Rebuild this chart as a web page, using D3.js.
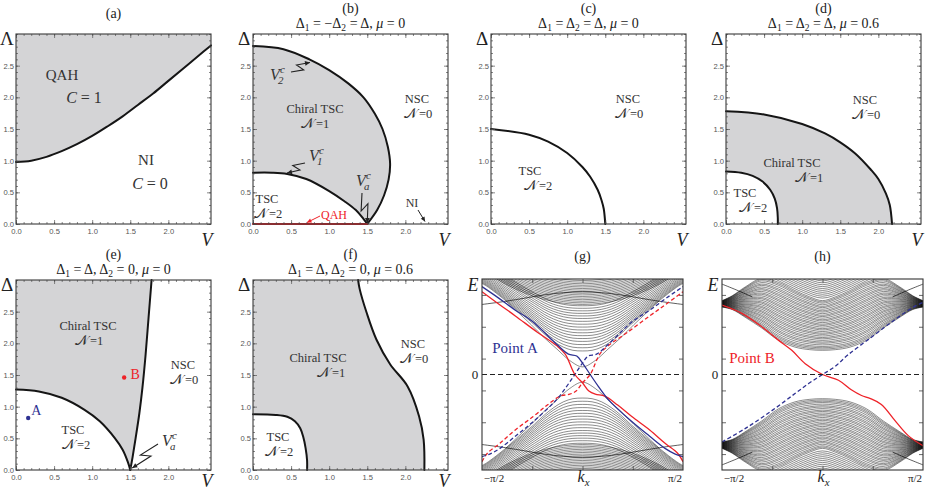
<!DOCTYPE html>
<html><head><meta charset="utf-8">
<script src="https://cdnjs.cloudflare.com/ajax/libs/d3/7.8.5/d3.min.js"></script>
<style>body{margin:0;background:#fff}svg{display:block}</style>
</head><body><svg id="c" width="927" height="490"></svg>
<script>
// ---------------- data ----------------
const xTicks=[0,0.5,1.0,1.5,2.0];
const xTickLabels=["0.0","0.5","1.0","1.5","2.0"];
const yTicks=[0,0.5,1.0,1.5,2.0,2.5];
const yTickLabels=["0.0","0.5","1.0","1.5","2.0","2.5"];
const VMAX=2.56, DMAX=3;

const aBoundary=[[0,0.98],[0.2,1.0],[0.4,1.06],[0.6,1.15],[0.8,1.26],[1.0,1.39],[1.2,1.54],[1.4,1.7],[1.6,1.88],[1.8,2.06],[2.0,2.26],[2.2,2.46],[2.4,2.66],[2.56,2.82]];
const bOuter=[[0,2.81],[0.4,2.76],[0.74,2.6],[1.0,2.43],[1.25,2.22],[1.45,2.0],[1.6,1.74],[1.7,1.5],[1.77,1.22],[1.8,0.95],[1.78,0.7],[1.72,0.45],[1.63,0.22],[1.5,0]];
const bInner=[[0,0.81],[0.25,0.81],[0.45,0.79],[0.7,0.71],[1.0,0.52],[1.2,0.36],[1.35,0.22],[1.45,0.08],[1.5,0]];
const bQAH=[[0,0],[1.5,0]];
const cCircle=[[0,1.5],[0.5,1.41],[0.75,1.3],[1.0,1.12],[1.2,0.9],[1.3,0.75],[1.4,0.54],[1.45,0.38],[1.48,0.24],[1.5,0]];
const dOuter=[[0,1.78],[0.5,1.73],[1.0,1.58],[1.3,1.43],[1.5,1.29],[1.7,1.11],[1.9,0.86],[2.0,0.71],[2.1,0.48],[2.15,0.3],[2.18,0]];
const dInner=[[0,0.83],[0.2,0.81],[0.35,0.76],[0.48,0.67],[0.58,0.54],[0.64,0.4],[0.67,0.25],[0.68,0.1],[0.68,0]];
const eInner=[[0,1.27],[0.3,1.24],[0.6,1.14],[0.9,0.95],[1.1,0.77],[1.3,0.5],[1.4,0.32],[1.47,0.12],[1.5,0]];
const eRight=[[1.5,0],[1.53,0.2],[1.57,0.5],[1.62,0.9],[1.66,1.3],[1.7,1.8],[1.74,2.4],[1.78,3.0]];
const ePointA=[0.16,0.82], ePointB=[1.42,1.46];
const fInner=[[0,0.88],[0.3,0.87],[0.45,0.84],[0.55,0.77],[0.62,0.66],[0.66,0.52],[0.69,0.35],[0.71,0.15],[0.71,0]];
const fRight=[[2.25,0],[2.24,0.48],[2.18,0.85],[2.03,1.32],[1.8,1.67],[1.62,2.06],[1.49,2.49],[1.4,2.86],[1.38,3.0]];

// band structure (g), point A  (k in rad, E in arbitrary units)
const gE0=[0.37,0.42,0.47,0.52,0.565,0.61,0.655,0.70,0.745,0.79,0.835,0.88,0.92,0.96,1.0,1.04,1.08];
const gEnv=[[0,0.37],[0.15,0.38],[0.3,0.43],[0.45,0.52],[0.6,0.64],[0.75,0.78],[0.9,0.91],[1.05,1.04],[1.2,1.16],[1.35,1.28],[1.5,1.39],[1.571,1.43]];
const gTopE0=[1.1,1.125,1.15,1.175,1.2,1.225,1.25,1.275,1.3,1.325,1.35,1.375,1.4,1.425,1.45,1.475];
const gTopShape=[[0,0],[0.3,0.02],[0.6,0.08],[0.9,0.18],[1.2,0.32],[1.5,0.5],[1.571,0.55]];
const gLens=[[0,1.3],[0.3,1.285],[0.6,1.25],[0.9,1.2],[1.2,1.15],[1.571,1.1]];
const gGapLine=[[0,0.12],[0.2,0.22],[0.4,0.4],[0.6,0.58],[0.8,0.78],[1.0,0.97],[1.2,1.16]];
const gRedSolid=[[-1.571,1.30],[-1.3,1.1],[-1.05,0.92],[-0.7,0.66],[-0.4,0.45],[-0.27,0.32],[-0.12,0.0],[0.0,-0.13],[0.1,-0.26],[0.2,-0.31],[0.35,-0.34],[0.55,-0.48],[0.77,-0.66],[1.05,-0.87],[1.29,-1.08],[1.49,-1.24],[1.571,-1.37]];
const gBlueSolid=[[-1.571,1.38],[-1.31,1.2],[-1.05,1.01],[-0.79,0.84],[-0.4,0.47],[-0.22,0.32],[-0.09,0.29],[0.0,0.18],[0.12,0.0],[0.25,-0.19],[0.4,-0.39],[0.77,-0.74],[1.05,-0.97],[1.29,-1.16],[1.45,-1.25],[1.571,-1.29]];
const gRedDashed=[[-1.571,-1.37],[-1.49,-1.24],[-1.29,-1.08],[-1.05,-0.87],[-0.77,-0.66],[-0.55,-0.48],[-0.35,-0.34],[-0.2,-0.31],[-0.1,-0.26],[0.0,-0.13],[0.12,0.0],[0.27,0.32],[0.4,0.45],[0.7,0.66],[1.05,0.92],[1.3,1.1],[1.571,1.30]];
const gBlueDashed=[[-1.571,-1.29],[-1.45,-1.25],[-1.29,-1.16],[-1.05,-0.97],[-0.77,-0.74],[-0.4,-0.39],[-0.25,-0.19],[-0.12,0.0],[0.0,0.18],[0.09,0.29],[0.22,0.32],[0.4,0.47],[0.79,0.84],[1.05,1.01],[1.31,1.2],[1.571,1.38]];

// band structure (h), point B
const hLower=[[0,0.38],[0.2,0.39],[0.43,0.43],[0.69,0.54],[0.95,0.73],[1.21,0.9],[1.41,1.02],[1.571,1.06]];
const hUpper=[[0,1.17],[0.2,1.23],[0.43,1.33],[0.69,1.46],[0.95,1.52],[1.21,1.38],[1.41,1.24],[1.571,1.16]];
const hE0=[0.38,0.40,0.42,0.44,0.465,0.49,0.51,0.535,0.56,0.58,0.605,0.63,0.65,0.675,0.70,0.72,0.745,0.77,0.79,0.815,0.84,0.86,0.885,0.91,0.93,0.955,0.98,1.0,1.025,1.05,1.07,1.095,1.12,1.14,1.16];
const hCap=[[-0.84,1.52],[-0.6,1.4],[-0.3,1.26],[0,1.17],[0.3,1.26],[0.6,1.4],[0.84,1.52]];
const hCapShift=[0.03,0.06,0.09,0.12,0.15,0.18,0.21,0.24,0.27,0.30,0.33];
const hCorner=[[-1.571,1.42],[-1.35,1.33],[-1.1,1.22]];
const hRedSolid=[[-1.571,1.09],[-1.26,0.96],[-0.95,0.75],[-0.69,0.54],[-0.48,0.38],[-0.27,0.17],[0,0],[0.25,-0.09],[0.45,-0.24],[0.61,-0.33],[0.75,-0.38],[0.92,-0.47],[1.13,-0.72],[1.34,-0.96],[1.571,-1.12]];
const hBlueDashed=[[-1.571,-1.06],[-1.21,-0.85],[-0.78,-0.56],[-0.43,-0.3],[-0.2,-0.13],[0,0],[0.2,0.13],[0.4,0.31],[0.77,0.59],[1.13,0.86],[1.44,1.07],[1.571,1.13]];
const bandETicks=[-1.25,-0.75,-0.25,0.25,0.75,1.25];
const bandKTicks=[-Math.PI/4,0,Math.PI/4];

// ---------------- drawing ----------------
const svg=d3.select('#c');
const FILL='#d4d4d6', CURVE='#151515', RED='#ee2228', BLUE='#2e3192', TXT='#333';
const SERIF='Liberation Serif, Times New Roman, serif';
const FW=195, FH=190;
let clipN=0;
function clip(x,y,w,h){const id='cp'+(clipN++);svg.append('clipPath').attr('id',id).append('rect').attr('x',x).attr('y',y).attr('width',w).attr('height',h);return `url(#${id})`;}

function rich(g,x,y,parts,size,opt={}){
  const t=g.append('text').attr('x',x).attr('y',y).attr('font-size',size)
    .attr('text-anchor',opt.anchor||'middle').attr('fill',opt.fill||TXT).attr('font-family',SERIF);
  let cur=0;
  parts.forEach(p=>{
    const s=typeof p==='string'?p:p[0];
    const st=(typeof p==='string'?'':p[1])||'';
    const ts=t.append('tspan').text(s);
    if(st.includes('i')) ts.attr('font-style','italic');
    if(st.includes('g')) ts.attr('dx',size*0.18);
    if(st.includes('n')) ts.attr('font-size',size*1.08);
    let off=0;
    if(st.includes('b')){off=size*0.28;ts.attr('font-size',size*0.68);}
    if(st.includes('p')){off=-size*0.42;ts.attr('font-size',size*0.68);}
    if(off-cur!==0) ts.attr('dy',off-cur);
    cur=off;
  });
  return t;
}
// two-line region label: name above, N-index below
function region(g,x,y,name,n,dx=0){
  rich(g,x,y,[name],LS);
  rich(g,x+dx,y+15,[['\u{1D4A9}','n'],['='+n,'g']],LS);
}
function vc(g,x,y,sub,size=16){
  g.append('text').attr('x',x).attr('y',y).attr('font-size',size).attr('font-style','italic').attr('font-family',SERIF).attr('fill',TXT).text('V');
  g.append('text').attr('x',x+size*0.62).attr('y',y-size*0.45).attr('font-size',size*0.68).attr('font-style','italic').attr('font-family',SERIF).attr('fill',TXT).text('c');
  g.append('text').attr('x',x+size*0.5).attr('y',y+size*0.28).attr('font-size',size*0.68).attr('font-style','italic').attr('font-family',SERIF).attr('fill',TXT).text(sub);
}
function arrowHead(g,x2,y2,fx,fy,color,len=5,hw=2.4){
  const dx=x2-fx, dy=y2-fy, L=Math.hypot(dx,dy), ux=dx/L, uy=dy/L;
  const bx=x2-ux*len, by=y2-uy*len;
  g.append('path').attr('d',`M${x2},${y2}L${bx-uy*hw},${by+ux*hw}L${bx+uy*hw},${by-ux*hw}Z`).attr('fill',color);
}
function squiggle(g,x1,y1,x2,y2,color='#222'){
  const dx=x2-x1, dy=y2-y1, L=Math.hypot(dx,dy), nx=-dy/L, ny=dx/L, w=Math.min(4,L*0.18);
  const a=[x1+dx*0.58+nx*w, y1+dy*0.58+ny*w], b=[x1+dx*0.38-nx*w, y1+dy*0.38-ny*w];
  g.append('path').attr('d',`M${x1},${y1}L${a[0]},${a[1]}L${b[0]},${b[1]}L${x2},${y2}`).attr('fill','none').attr('stroke',color).attr('stroke-width',1.1);
  arrowHead(g,x2,y2,b[0],b[1],color);
}
function straightArrow(g,x1,y1,x2,y2,color='#222'){
  g.append('path').attr('d',`M${x1},${y1}L${x2},${y2}`).attr('stroke',color).attr('stroke-width',1);
  arrowHead(g,x2,y2,x1,y1,color,4.5,2.2);
}

function phasePanel(px,py){
  const x=d3.scaleLinear().domain([0,VMAX]).range([px,px+FW]);
  const y=d3.scaleLinear().domain([0,DMAX]).range([py+FH,py]);
  const g=svg.append('g');
  const fillG=g.append('g').attr('clip-path',clip(px,py,FW,FH));
  const line=d3.line().x(d=>x(d[0])).y(d=>y(d[1])).curve(d3.curveCatmullRom.alpha(0.5));
  return {x,y,g,fillG,px,py,line};
}
function phaseCurve(P,data,color=CURVE,w=2){
  P.g.append('path').attr('d',P.line(data)).attr('fill','none').attr('stroke',color).attr('stroke-width',w).attr('stroke-linecap','round');
}
function phaseFrame(P,ylab,title,sub,titleY,vdy=22){
  const {x,y,g,px,py}=P;
  const minorX=d3.range(0,VMAX,0.1), minorY=d3.range(0,DMAX+1e-6,0.1);
  const specs=[
    [d3.axisBottom(x).tickValues(xTicks).tickFormat((d,i)=>xTickLabels[i]).tickSize(-4).tickPadding(5),`translate(0,${py+FH})`],
    [d3.axisBottom(x).tickValues(minorX).tickFormat('').tickSize(-2),`translate(0,${py+FH})`],
    [d3.axisTop(x).tickValues(xTicks).tickFormat('').tickSize(-4),`translate(0,${py})`],
    [d3.axisTop(x).tickValues(minorX).tickFormat('').tickSize(-2),`translate(0,${py})`],
    [d3.axisLeft(y).tickValues(yTicks).tickFormat((d,i)=>yTickLabels[i]).tickSize(-4).tickPadding(2),`translate(${px},0)`],
    [d3.axisLeft(y).tickValues(minorY).tickFormat('').tickSize(-2),`translate(${px},0)`],
    [d3.axisRight(y).tickValues(yTicks).tickFormat('').tickSize(-4),`translate(${px+FW},0)`],
    [d3.axisRight(y).tickValues(minorY).tickFormat('').tickSize(-2),`translate(${px+FW},0)`]
  ];
  specs.forEach(([a,t])=>{
    const s=g.append('g').attr('transform',t).call(a);
    s.select('.domain').remove();
    s.selectAll('line').attr('stroke','#555').attr('stroke-width',0.7);
    s.selectAll('text').attr('font-family','Liberation Sans, Arial, sans-serif').attr('font-size',7.6).attr('fill','#555');
  });
  g.append('rect').attr('x',px).attr('y',py).attr('width',FW).attr('height',FH).attr('fill','none').attr('stroke','#3a3a3a').attr('stroke-width',1.1);
  rich(g,px-9,py+11,[ylab],19,{anchor:'middle',fill:'#222'});
  rich(g,px+FW-4,py+FH+vdy,[['V','i']],18,{anchor:'middle',fill:'#222'});
  rich(g,px+FW/2,titleY,[title],14,{fill:'#222'});
  if(sub) rich(g,px+FW/2,titleY+15,sub,14,{fill:'#222'});
}
const LS=12.5;

// (a)
{
  const P=phasePanel(16,34);
  P.fillG.append('path').attr('d',P.line(aBoundary)+`L${P.x(VMAX)},${P.y(DMAX)}L${P.x(0)},${P.y(DMAX)}Z`).attr('fill',FILL);
  phaseCurve(P,aBoundary);
  phaseFrame(P,'\u039B','(a)',null,18);
  rich(P.g,62,80,['QAH'],15);
  rich(P.g,84,103,[['C','i'],' = 1'],16);
  rich(P.g,146,165,['NI'],15);
  rich(P.g,150,189,[['C','i'],' = 0'],16);
}
// (b)
{
  const P=phasePanel(253,34);
  const ring=P.line(bOuter)+P.line(bInner.slice().reverse()).replace(/^M/,'L')+'Z';
  P.fillG.append('path').attr('d',ring).attr('fill',FILL);
  phaseCurve(P,bOuter); phaseCurve(P,bInner);
  phaseCurve(P,bQAH,RED,2.2);
  phaseFrame(P,'\u0394','(b)',[['\u0394'],['1','b'],' = \u2212\u0394',['2','b'],' = \u0394, ',['\u03BC','i'],' = 0'],12.5);
  vc(P.g,270,80,'2');
  squiggle(P.g,291,72,310,62.5);
  region(P.g,315,113,'Chiral TSC',1);
  vc(P.g,309,161,'1');
  squiggle(P.g,305,163,287,173);
  region(P.g,267,203,'TSC',2,1);
  vc(P.g,356,186,'a');
  squiggle(P.g,362,193,P.x(1.5),P.y(0)-1);
  rich(P.g,334,219,['QAH'],12,{fill:RED});
  straightArrow(P.g,320,216,307,222.5,RED);
  rich(P.g,412,207,['NI'],12);
  straightArrow(P.g,418,210,425,221.5);
  region(P.g,417,103,'NSC',0,1);
}
// (c)
{
  const P=phasePanel(491,34);
  phaseCurve(P,cCircle);
  phaseFrame(P,'\u0394','(c)',[['\u0394'],['1','b'],' = \u0394',['2','b'],' = \u0394, ',['\u03BC','i'],' = 0'],12.5);
  region(P.g,628,103,'NSC',0,1);
  region(P.g,530,175,'TSC',2,8);
}
// (d)
{
  const P=phasePanel(726,34);
  const ring=P.line(dOuter)+P.line(dInner.slice().reverse()).replace(/^M/,'L')+'Z';
  P.fillG.append('path').attr('d',ring).attr('fill',FILL);
  phaseCurve(P,dOuter); phaseCurve(P,dInner);
  phaseFrame(P,'\u0394','(d)',[['\u0394'],['1','b'],' = \u0394',['2','b'],' = \u0394, ',['\u03BC','i'],' = 0.6'],12.5);
  region(P.g,865,104,'NSC',0,1);
  region(P.g,792,167,'Chiral TSC',1,17);
  region(P.g,745,197,'TSC',2,8);
}
// (e)
{
  const P=phasePanel(16,280);
  const reg=`M${P.x(0)},${P.y(DMAX)}`+P.line(eInner).replace(/^M/,'L')+P.line(eRight).replace(/^M/,'L')+'Z';
  P.fillG.append('path').attr('d',reg).attr('fill',FILL);
  phaseCurve(P,eInner); phaseCurve(P,eRight);
  phaseFrame(P,'\u0394','(e)',[['\u0394'],['1','b'],' = \u0394, \u0394',['2','b'],' = 0, ',['\u03BC','i'],' = 0'],258.5,17);
  P.g.append('circle').attr('cx',P.x(ePointA[0])).attr('cy',P.y(ePointA[1])).attr('r',2.2).attr('fill',BLUE);
  P.g.append('circle').attr('cx',P.x(ePointB[0])).attr('cy',P.y(ePointB[1])).attr('r',2.2).attr('fill',RED);
  rich(P.g,P.x(ePointA[0])+8,P.y(ePointA[1])-3,['A'],14,{fill:BLUE});
  rich(P.g,P.x(ePointB[0])+11,P.y(ePointB[1])+1,['B'],14,{fill:RED});
  region(P.g,88,330,'Chiral TSC',1,1);
  region(P.g,183,369,'NSC',0,1);
  region(P.g,73,434,'TSC',2,3);
  vc(P.g,162,446,'a');
  squiggle(P.g,158,444,P.x(1.5)+2,P.y(0)-2);
}
// (f)
{
  const P=phasePanel(253,280);
  const reg=`M${P.x(0)},${P.y(DMAX)}`+P.line(fInner).replace(/^M/,'L')+P.line(fRight).replace(/^M/,'L')+'Z';
  P.fillG.append('path').attr('d',reg).attr('fill',FILL);
  phaseCurve(P,fInner); phaseCurve(P,fRight);
  phaseFrame(P,'\u0394','(f)',[['\u0394'],['1','b'],' = \u0394, \u0394',['2','b'],' = 0, ',['\u03BC','i'],' = 0.6'],258.5,17);
  region(P.g,318,362,'Chiral TSC',1,13);
  region(P.g,413,348,'NSC',0,1);
  region(P.g,278,441,'TSC',2,1);
}

// ---------- band panels ----------
function bandPanel(px,py,w,h){
  const x=d3.scaleLinear().domain([-Math.PI/2,Math.PI/2]).range([px,px+w]);
  const y=d3.scaleLinear().domain([-1.5,1.5]).range([py+h,py]);
  const g=svg.append('g');
  const inner=g.append('g').attr('clip-path',clip(px,py,w,h));
  const line=d3.line().x(d=>x(d[0])).y(d=>y(d[1])).curve(d3.curveCatmullRom.alpha(0.5));
  return {x,y,g,inner,px,py,w,h,line};
}
function bulk(P,pts,w=0.5){
  [1,-1].forEach(s=>P.inner.append('path').attr('d',P.line(pts.map(d=>[d[0],s*d[1]]))).attr('fill','none').attr('stroke','#000').attr('stroke-width',w).attr('stroke-opacity',0.9));
}
function symm(nodes){
  const neg=nodes.filter(d=>d[0]>0).map(d=>[-d[0],d[1]]).reverse();
  return neg.concat(nodes);
}
function edge(P,data,color,dashed){
  const p=P.inner.append('path').attr('d',P.line(data)).attr('fill','none').attr('stroke',color).attr('stroke-width',1.3);
  if(dashed) p.attr('stroke-dasharray','4,2.5');
}
function bandFrame(P,title){
  const {x,y,g,px,py,w,h}=P;
  g.append('line').attr('x1',px).attr('x2',px+w).attr('y1',y(0)).attr('y2',y(0)).attr('stroke','#222').attr('stroke-width',1).attr('stroke-dasharray','5,3');
  const specs=[
    [d3.axisLeft(y).tickValues(bandETicks).tickFormat('').tickSize(-4),`translate(${px},0)`],
    [d3.axisRight(y).tickValues(bandETicks).tickFormat('').tickSize(-4),`translate(${px+w},0)`],
    [d3.axisBottom(x).tickValues(bandKTicks).tickFormat('').tickSize(-4),`translate(0,${py+h})`],
    [d3.axisTop(x).tickValues(bandKTicks).tickFormat('').tickSize(-4),`translate(0,${py})`]
  ];
  specs.forEach(([a,t])=>{const s=g.append('g').attr('transform',t).call(a);s.select('.domain').remove();s.selectAll('line').attr('stroke','#444').attr('stroke-width',0.8);});
  g.append('rect').attr('x',px).attr('y',py).attr('width',w).attr('height',h).attr('fill','none').attr('stroke','#333').attr('stroke-width',1.1);
  rich(g,px-9,py+12,[['E','i']],18,{fill:'#222'});
  rich(g,px-7,y(0)+4.5,['0'],13,{fill:'#222'});
  rich(g,x(-Math.PI/2)+12,py+h+12,['\u2212\u03C0/2'],11,{fill:'#222'});
  rich(g,x(Math.PI/2)-8,py+h+12,['\u03C0/2'],11,{fill:'#222'});
  rich(g,x(0)+1,py+h+12,[['k','i'],['x','ib']],16,{fill:'#222'});
  rich(g,px+w/2,py-18,[title],14,{fill:'#222'});
}

// (g)
{
  const P=bandPanel(482,279,201,191);
  const env0=gEnv[0][1];
  gE0.forEach(E0=>{
    bulk(P,symm(gEnv.map(([k,e])=>[k,Math.sqrt(E0*E0+e*e-env0*env0)])));
  });
  gTopE0.forEach(E0=>{
    bulk(P,symm(gTopShape.map(([k,s])=>[k,E0+s])));
  });
  bulk(P,symm(gLens),0.7);
  bulk(P,symm(gGapLine));
  edge(P,gRedDashed,RED,true);
  edge(P,gBlueDashed,BLUE,true);
  edge(P,gRedSolid,RED,false);
  edge(P,gBlueSolid,BLUE,false);
  bandFrame(P,'(g)');
  rich(P.g,515,353,['Point A'],15,{fill:BLUE});
}
// (h)
{
  const P=bandPanel(722,279,201,191);
  const L0=hLower[0][1], U0=hUpper[0][1];
  hE0.forEach(E0=>{
    const t=(E0-L0)/(U0-L0);
    bulk(P,symm(hLower.map(([k,e],j)=>[k,e+t*(hUpper[j][1]-e)])));
  });
  hCapShift.forEach(s=>bulk(P,hCap.map(([k,e])=>[k,e+s])));
  bulk(P,hCorner,0.7);
  bulk(P,hCorner.map(([k,e])=>[-k,e]),0.7);
  edge(P,hBlueDashed,BLUE,true);
  edge(P,hRedSolid,RED,false);
  bandFrame(P,'(h)');
  rich(P.g,752,363,['Point B'],15,{fill:RED});
}
</script></body></html>
